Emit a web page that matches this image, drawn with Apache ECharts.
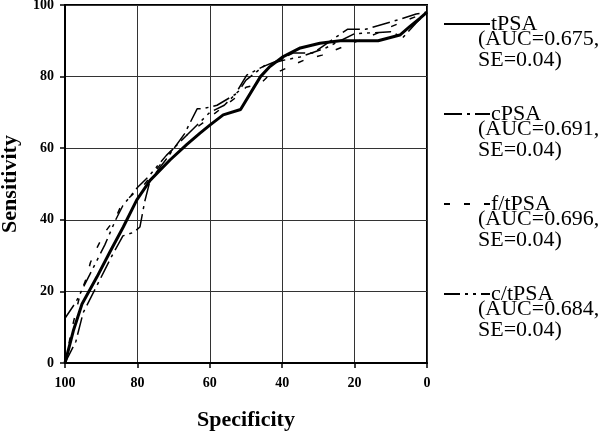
<!DOCTYPE html>
<html><head><meta charset="utf-8">
<script src="https://cdn.jsdelivr.net/npm/echarts@6/dist/echarts.min.js"></script>
<style>html,body{margin:0;padding:0;background:#fff}#c{width:600px;height:432px}</style>
</head><body><div id="c"></div>
<script>
// ---- data (specificity, sensitivity) ----
const seriesNames = ['tPSA', 'cPSA', 'f/tPSA', 'c/tPSA'];
const aucLabels = ['(AUC=0.675,', '(AUC=0.691,', '(AUC=0.696,', '(AUC=0.684,'];
const seLabels = ['SE=0.04)', 'SE=0.04)', 'SE=0.04)', 'SE=0.04)'];
const xAxisTitle = 'Specificity';
const yAxisTitle = 'Sensitivity';

const tPSA = [[100,0],[97.7,9],[95.3,16.5],[91.2,24],[87.6,31],[83.9,38],[80.2,45.5],[76.5,51],[71,56.7],[66.4,61],[62.7,64.2],[59.9,66.5],[56.3,69.3],[51.5,70.8],[46,80],[43.4,82.8],[39.7,85.6],[35,88],[29.6,89.3],[24,90],[13.5,90],[7.5,91.6],[4.7,94],[1.9,96.3],[0,98]];
const cPSA = [[100,0],[97,6],[95,14],[92,20],[89,26],[87,30],[84,35.5],[81,36.5],[79.3,38],[78,45],[76.5,51],[72,57],[67,64],[63.5,71],[62,71],[58,72],[53,75],[49.8,80.4],[45.3,82.8],[40,85],[37,86.6],[31.5,86.6],[22,93.2],[17,93.2],[7.5,96],[3,97.5],[0,98]];
const ftPSA = [[100,0],[98,10],[96,18.5],[94,24],[93,28],[91,32.5],[89,36.5],[86,40.5],[84.5,44],[81,47.4],[78,50],[74,55],[70,60],[66,64],[62,67],[57,71],[53,74],[50,77],[46,78],[44,80],[39,82.3],[34,84.6],[29,86],[22,88.8],[14,92],[11,93.5],[5,96],[0,98]];
const ctPSA = [[100,12.5],[97,17],[95,21],[92,27],[89,33],[86,40],[84,44],[80,49],[77,52],[72,58],[67,63],[60,70],[56,72],[52,76],[50,79],[45,83],[40,84.5],[35,85.5],[28,88],[20,92],[10,92.5],[6.6,91],[3,95],[0,98]];
const allData = [tPSA, cPSA, ftPSA, ctPSA];

const lineTypes = ['solid', [18,5,3,5], [6,14], [16,5,3,5,3,5]];
const lineWidths = [3, 1.5, 1.5, 1.5];

const serif = '"Liberation Serif", "Times New Roman", serif';
const chart = echarts.init(document.getElementById('c'));

const graphics = [];
for (let i = 0; i < seriesNames.length; i++) {
  graphics.push({
    type: 'text', left: 478, top: 28 + 90 * i,
    style: { text: aucLabels[i] + '\n' + seLabels[i], font: '22px ' + serif, lineHeight: 21, fill: '#000' }
  });
}

chart.setOption({
  animation: false,
  backgroundColor: '#fff',
  grid: { left: 65, right: 173, top: 5, bottom: 69, containLabel: false, outerBoundsMode: 'none',
          show: true, borderColor: '#000', borderWidth: 2, backgroundColor: 'transparent' },
  xAxis: {
    type: 'value', inverse: true, min: 0, max: 100, interval: 20,
    name: xAxisTitle, nameLocation: 'middle', nameGap: 46,
    nameTextStyle: { fontFamily: serif, fontWeight: 'bold', fontSize: 22, color: '#000' },
    axisLine: { show: true, onZero: false, lineStyle: { color: '#000', width: 2 } },
    axisTick: { show: true, inside: false, length: 5, lineStyle: { color: '#000', width: 1.5 } },
    axisLabel: { margin: 13, fontFamily: serif, fontWeight: 'bold', fontSize: 14, color: '#000' },
    splitLine: { show: true, lineStyle: { color: '#333', width: 1 } }
  },
  yAxis: {
    type: 'value', min: 0, max: 100, interval: 20,
    name: yAxisTitle, nameLocation: 'middle', nameGap: 44,
    nameTextStyle: { fontFamily: serif, fontWeight: 'bold', fontSize: 22, color: '#000' },
    axisLine: { show: true, onZero: false, lineStyle: { color: '#000', width: 2 } },
    axisTick: { show: true, inside: false, length: 5, lineStyle: { color: '#000', width: 1.5 } },
    axisLabel: { margin: 11, fontFamily: serif, fontWeight: 'bold', fontSize: 14, color: '#000' },
    splitLine: { show: true, lineStyle: { color: '#333', width: 1 } }
  },
  legend: {
    orient: 'vertical', left: 438, top: 8,
    itemWidth: 46, itemHeight: 14, itemGap: 68, itemStyle: { opacity: 0 },
    textStyle: { fontFamily: serif, fontSize: 22, lineHeight: 22, color: '#000', padding: [0,0,0,-4] },
    data: seriesNames
  },
  graphic: graphics,
  series: seriesNames.map((n, i) => ({
    name: n, type: 'line', data: allData[i], symbol: 'none', z: 10 - i,
    lineStyle: { color: '#000', width: lineWidths[i], type: lineTypes[i] },
    itemStyle: { color: '#000' }
  }))
});
</script>
</body></html>
